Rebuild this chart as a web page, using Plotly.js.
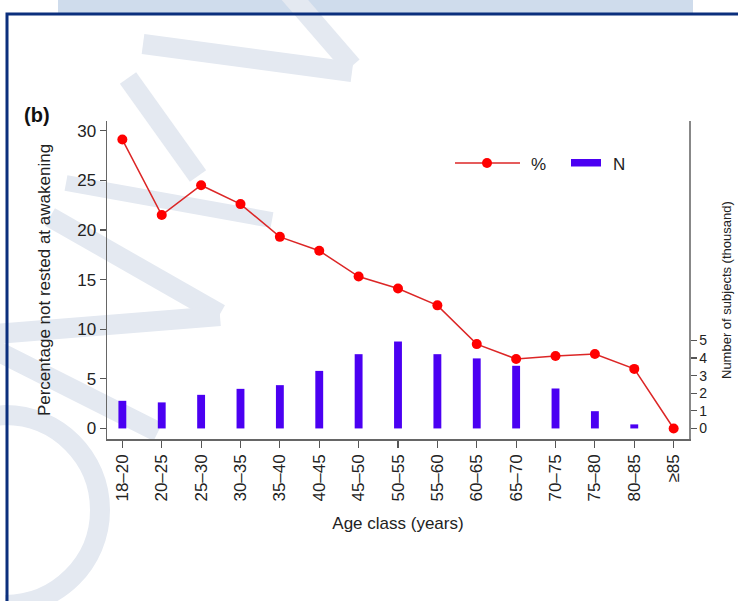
<!DOCTYPE html>
<html><head><meta charset="utf-8">
<script src="https://cdn.plot.ly/plotly-3.0.1.min.js"></script>
<style>html,body{margin:0;padding:0;background:#fff;overflow:hidden;} #chart{width:738px;height:601px;}</style>
</head><body><div id="chart"></div>
<script>
// ---- data ----
const ageClasses = ['18–20','20–25','25–30','30–35','35–40','40–45','45–50','50–55','55–60','60–65','65–70','70–75','75–80','80–85','≥85'];
const pctNotRested = [29.1, 21.5, 24.5, 22.6, 19.3, 17.9, 15.3, 14.1, 12.4, 8.5, 7.0, 7.3, 7.5, 6.0, 0.0];
const nSubjectsThousand = [1.57, 1.48, 1.91, 2.25, 2.46, 3.27, 4.22, 4.94, 4.22, 3.98, 3.56, 2.27, 0.98, 0.23, 0.0];
const leftTicks = [0, 5, 10, 15, 20, 25, 30];
const rightTicks = [0, 1, 2, 3, 4, 5];

// ---- geometry helpers (pixel -> paper) ----
const W = 738, H = 601;
const ML = 107, MR = 49, MT = 121, MB = 162;
const PW = W - ML - MR, PH = H - MT - MB;
const px = x => (x - ML) / PW;
const py = y => (H - MB - y) / PH;

const FONT = 'Liberation Sans, Arial, Helvetica, sans-serif';
const wm = '#e4e9f1';
function stroke(x0, y0, x1, y1, w) {
  return {type:'line', xref:'paper', yref:'paper', layer:'below',
    x0:px(x0), y0:py(y0), x1:px(x1), y1:py(y1), line:{color:wm, width:w||20}};
}
function P(x, y) { return px(x) + ',' + py(y); }

const shapes = [
  // top light band and frame
  {type:'rect', xref:'paper', yref:'paper', layer:'below', x0:px(58), x1:px(693), y0:py(-5), y1:py(13), fillcolor:'#cfdcec', line:{width:0}},
  // watermark strokes
  stroke(288, -8, 352, 66, 20),
  stroke(143, 44, 352, 72, 20),
  stroke(128, 78, 198, 176, 20),
  stroke(66, 183, 272, 220, 16),
  stroke(50, 217, 220, 314, 20),
  stroke(220, 316, -5, 334, 20),
  stroke(-5, 350, 158, 432, 20),
  {type:'path', xref:'paper', yref:'paper', layer:'below', line:{color:wm, width:20},
    path:'M' + P(-25, 418) + ' L' + P(5, 415) + ' C' + P(57.5, 415) + ' ' + P(100, 457.5) + ' ' + P(100, 510) +
         ' C' + P(100, 562.5) + ' ' + P(57.5, 605) + ' ' + P(5, 605)},
  {type:'rect', xref:'paper', yref:'paper', layer:'above', x0:px(7), x1:px(760), y0:py(14), y1:py(640), fillcolor:'rgba(0,0,0,0)', line:{color:'#0b2f7d', width:3}},
  // custom legend
  {type:'line', xref:'paper', yref:'paper', x0:px(455), x1:px(520), y0:py(163), y1:py(163), line:{color:'#dc2626', width:1.5}},
  {type:'circle', xref:'paper', yref:'paper', x0:px(482), x1:px(492), y0:py(158), y1:py(168), fillcolor:'#ff0000', line:{color:'#ff0000', width:0}},
  {type:'rect', xref:'paper', yref:'paper', x0:px(571), x1:px(601), y0:py(159), y1:py(166.5), fillcolor:'#4b00f2', line:{width:0}}
];

const annotations = [
  {xref:'paper', yref:'paper', x:px(22), y:py(115), xanchor:'left', yanchor:'middle', showarrow:false,
   text:'<b>(b)</b>', font:{family:FONT, size:20, color:'#111'}},
  {xref:'paper', yref:'paper', x:px(529), y:py(164), xanchor:'left', yanchor:'middle', showarrow:false,
   text:'%', font:{family:FONT, size:17, color:'#222'}},
  {xref:'paper', yref:'paper', x:px(611), y:py(164), xanchor:'left', yanchor:'middle', showarrow:false,
   text:'N', font:{family:FONT, size:17, color:'#222'}},
  {xref:'paper', yref:'paper', x:px(726), y:py(290), xanchor:'center', yanchor:'middle', showarrow:false, textangle:-90,
   text:'Number of subjects (thousand)', font:{family:FONT, size:13, color:'#222'}}
];

const traces = [
  {type:'bar', name:'N', x:ageClasses, y:nSubjectsThousand, yaxis:'y2', width:0.2,
   marker:{color:'#4b00f2', line:{width:0}}, showlegend:false},
  {type:'scatter', mode:'lines+markers', name:'%', x:ageClasses, y:pctNotRested, yaxis:'y',
   line:{color:'#dc2626', width:1.5}, marker:{color:'#ff0000', size:10}, showlegend:false}
];

const layout = {
  width:W, height:H,
  margin:{l:ML, r:MR, t:MT, b:MB, pad:0},
  paper_bgcolor:'rgba(255,255,255,0)', plot_bgcolor:'rgba(0,0,0,0)',
  font:{family:FONT, size:17, color:'#222'},
  showlegend:false,
  xaxis:{type:'category', range:[-0.39, 14.39], showgrid:false, zeroline:false,
    showline:true, linecolor:'#666', linewidth:1.5, ticks:'outside', ticklen:7, tickcolor:'#555', tickwidth:1.2,
    tickangle:-90, tickfont:{family:FONT, size:17, color:'#222'},
    title:{text:'Age class (years)', font:{family:FONT, size:17, color:'#222'}, standoff:16}},
  yaxis:{range:[-1.06, 30.97], tickvals:leftTicks, showgrid:false, zeroline:false,
    showline:true, linecolor:'#666', linewidth:1.5, ticks:'outside', ticklen:6, tickcolor:'#555', tickwidth:1.2,
    tickfont:{family:FONT, size:17, color:'#222'},
    title:{text:'Percentage not rested at awakening', font:{family:FONT, size:17, color:'#222'}, standoff:22}},
  yaxis2:{overlaying:'y', side:'right', range:[-0.6, 17.47], tickvals:rightTicks, showgrid:false, zeroline:false,
    showline:true, linecolor:'#888', linewidth:1.5, ticks:'outside', ticklen:6, tickcolor:'#555', tickwidth:1.2,
    tickfont:{family:FONT, size:14, color:'#222'}},
  shapes:shapes, annotations:annotations
};

Plotly.newPlot('chart', traces, layout, {staticPlot:true, displayModeBar:false});
</script>
</body></html>
